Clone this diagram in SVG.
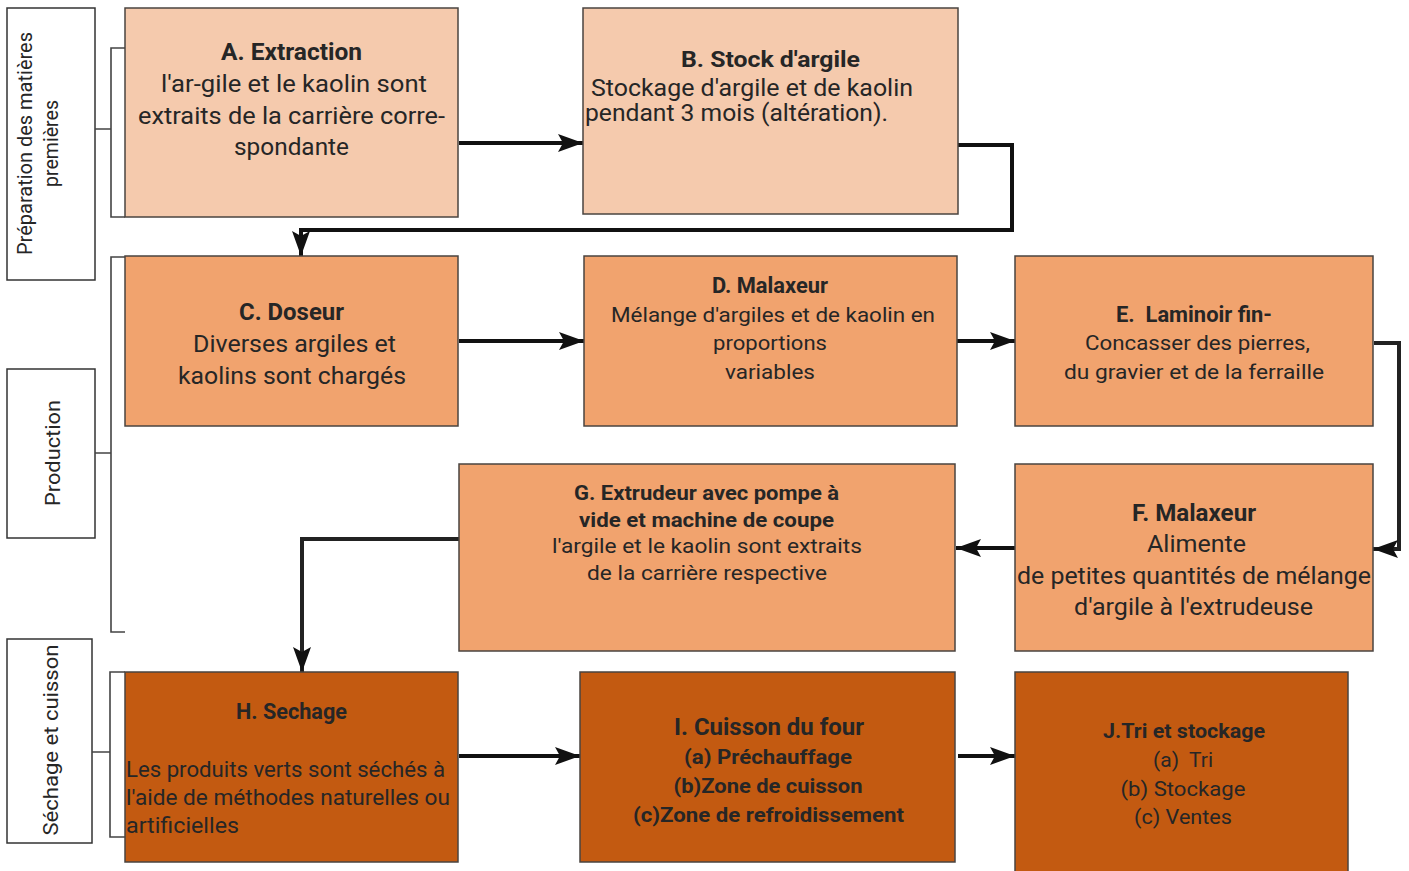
<svg xmlns="http://www.w3.org/2000/svg" width="1409" height="871" viewBox="0 0 1409 871">
<style>
  .lbl{fill:#fff;stroke:#333;stroke-width:1.5}
  .brk{fill:none;stroke:#444;stroke-width:1.6}
  .n{stroke:#4a4440;stroke-width:1.5}
  .p1{fill:#F5CAAD}
  .p2{fill:#F1A36E}
  .p3{fill:#C35A11}
  text{font-family:Roboto,"Liberation Sans",sans-serif;fill:#262626}
  .t{font-weight:bold}
  .c{text-anchor:middle}
  .con{fill:none;stroke:#111;stroke-width:4}
</style>
<defs>
  <marker id="ah" markerUnits="userSpaceOnUse" markerWidth="26" markerHeight="20" refX="25" refY="9" orient="auto">
    <path d="M0,0 L25,9 L0,18 L5,9 Z" fill="#111"/>
  </marker>
</defs>
<rect width="1409" height="871" fill="#fff"/>

<!-- left group labels -->
<g id="grp-prep">
  <rect class="lbl" x="7" y="8" width="88" height="272"/>
  <text class="c" font-size="21" transform="translate(32,143.5) rotate(-90)" textLength="223" lengthAdjust="spacingAndGlyphs">Préparation des matières</text>
  <text class="c" font-size="21" transform="translate(58,143.5) rotate(-90)" textLength="87" lengthAdjust="spacingAndGlyphs">premières</text>
  <path class="brk" d="M95,129 H111 M125,48 H111 V217 H125"/>
</g>
<g id="grp-prod">
  <rect class="lbl" x="7" y="369" width="88" height="169"/>
  <text class="c" font-size="21" transform="translate(60,453) rotate(-90)" textLength="106" lengthAdjust="spacingAndGlyphs">Production</text>
  <path class="brk" d="M95,453 H111 M125,257 H111 V632 H125"/>
</g>
<g id="grp-sech">
  <rect class="lbl" x="7" y="639" width="85" height="204"/>
  <text class="c" font-size="21" transform="translate(58,740) rotate(-90)" textLength="191" lengthAdjust="spacingAndGlyphs">Séchage et cuisson</text>
  <path class="brk" d="M92,752 H110 M125,672 H110 V837 H125"/>
</g>

<!-- connectors -->
<g id="connectors">
  <path class="con" d="M459,143 H583" marker-end="url(#ah)"/>
  <path class="con" d="M958,145 H1012 V230 H301 V256" marker-end="url(#ah)"/>
  <path class="con" d="M459,341 H584" marker-end="url(#ah)"/>
  <path class="con" d="M957,341 H1015" marker-end="url(#ah)"/>
  <path class="con" d="M1374,343 H1399 V549 H1373" marker-end="url(#ah)" style="stroke:#222"/>
  <path class="con" d="M1015,548 H956" marker-end="url(#ah)"/>
  <path class="con" d="M459,539 H302 V672" marker-end="url(#ah)" style="stroke:#222"/>
  <path class="con" d="M459,756 H580" marker-end="url(#ah)"/>
  <path class="con" d="M958,756 H1015" marker-end="url(#ah)"/>
</g>

<!-- nodes -->
<g id="nodeA">
  <rect class="n p1" x="125" y="8" width="333" height="209"/>
  <text class="t c" x="291.5" y="60" font-size="24" textLength="141" lengthAdjust="spacingAndGlyphs">A. Extraction</text>
  <text class="c" x="294" y="92" font-size="24" textLength="266" lengthAdjust="spacingAndGlyphs">l'ar-gile et le kaolin sont</text>
  <text class="c" x="291.5" y="124" font-size="24" textLength="307" lengthAdjust="spacingAndGlyphs">extraits de la carrière corre-</text>
  <text class="c" x="291.5" y="155" font-size="24" textLength="115" lengthAdjust="spacingAndGlyphs">spondante</text>
</g>
<g id="nodeB">
  <rect class="n p1" x="583" y="8" width="375" height="206"/>
  <text class="t c" x="770.5" y="67" font-size="22" textLength="179" lengthAdjust="spacingAndGlyphs">B. Stock d'argile</text>
  <text x="591" y="96" font-size="23" textLength="322" lengthAdjust="spacingAndGlyphs">Stockage d'argile et de kaolin</text>
  <text x="585" y="121" font-size="23" textLength="303" lengthAdjust="spacingAndGlyphs">pendant 3 mois (altération).</text>
</g>
<g id="nodeC">
  <rect class="n p2" x="125" y="256" width="333" height="170"/>
  <text class="t c" x="291.5" y="320" font-size="24" textLength="105" lengthAdjust="spacingAndGlyphs">C. Doseur</text>
  <text class="c" x="294.5" y="352" font-size="24" textLength="203" lengthAdjust="spacingAndGlyphs">Diverses argiles et</text>
  <text class="c" x="292" y="384" font-size="24" textLength="228" lengthAdjust="spacingAndGlyphs">kaolins sont chargés</text>
</g>
<g id="nodeD">
  <rect class="n p2" x="584" y="256" width="373" height="170"/>
  <text class="t c" x="770" y="293" font-size="22" textLength="116" lengthAdjust="spacingAndGlyphs">D. Malaxeur</text>
  <text class="c" x="773" y="322" font-size="21" textLength="324" lengthAdjust="spacingAndGlyphs">Mélange d'argiles et de kaolin en</text>
  <text class="c" x="770" y="350" font-size="21" textLength="114" lengthAdjust="spacingAndGlyphs">proportions</text>
  <text class="c" x="770" y="379" font-size="21" textLength="90" lengthAdjust="spacingAndGlyphs">variables</text>
</g>
<g id="nodeE">
  <rect class="n p2" x="1015" y="256" width="358" height="170"/>
  <text class="t c" x="1194" y="322" font-size="22" textLength="156" lengthAdjust="spacingAndGlyphs" xml:space="preserve">E.  Laminoir fin-</text>
  <text class="c" x="1197.5" y="350" font-size="21" textLength="225" lengthAdjust="spacingAndGlyphs">Concasser des pierres,</text>
  <text class="c" x="1194" y="379" font-size="21" textLength="260" lengthAdjust="spacingAndGlyphs">du gravier et de la ferraille</text>
</g>
<g id="nodeF">
  <rect class="n p2" x="1015" y="464" width="358" height="187"/>
  <text class="t c" x="1194" y="521" font-size="24" textLength="124" lengthAdjust="spacingAndGlyphs">F. Malaxeur</text>
  <text class="c" x="1196.5" y="552" font-size="24" textLength="99" lengthAdjust="spacingAndGlyphs">Alimente</text>
  <text class="c" x="1194" y="584" font-size="24" textLength="354" lengthAdjust="spacingAndGlyphs">de petites quantités de mélange</text>
  <text class="c" x="1193.5" y="615" font-size="24" textLength="239" lengthAdjust="spacingAndGlyphs">d'argile à l'extrudeuse</text>
</g>
<g id="nodeG">
  <rect class="n p2" x="459" y="464" width="496" height="187"/>
  <text class="t c" x="706.5" y="500" font-size="21" textLength="265" lengthAdjust="spacingAndGlyphs">G. Extrudeur avec pompe à</text>
  <text class="t c" x="706.5" y="527" font-size="21" textLength="255" lengthAdjust="spacingAndGlyphs">vide et machine de coupe</text>
  <text class="c" x="707" y="553" font-size="21" textLength="310" lengthAdjust="spacingAndGlyphs">l'argile et le kaolin sont extraits</text>
  <text class="c" x="707" y="580" font-size="21" textLength="240" lengthAdjust="spacingAndGlyphs">de la carrière respective</text>
</g>
<g id="nodeH">
  <rect class="n p3" x="125" y="672" width="333" height="190"/>
  <text class="t c" x="291.5" y="719" font-size="22" textLength="111" lengthAdjust="spacingAndGlyphs">H. Sechage</text>
  <text x="126" y="777" font-size="22" textLength="319" lengthAdjust="spacingAndGlyphs">Les produits verts sont séchés à</text>
  <text x="126" y="805" font-size="22" textLength="324" lengthAdjust="spacingAndGlyphs">l'aide de méthodes naturelles ou</text>
  <text x="126" y="833" font-size="22" textLength="113" lengthAdjust="spacingAndGlyphs">artificielles</text>
</g>
<g id="nodeI">
  <rect class="n p3" x="580" y="672" width="375" height="190"/>
  <text class="t c" x="769" y="735" font-size="23" textLength="190" lengthAdjust="spacingAndGlyphs">I. Cuisson du four</text>
  <text class="t c" x="768" y="764" font-size="21" textLength="168" lengthAdjust="spacingAndGlyphs">(a) Préchauffage</text>
  <text class="t c" x="768" y="793" font-size="21" textLength="189" lengthAdjust="spacingAndGlyphs">(b)Zone de cuisson</text>
  <text class="t c" x="768.5" y="822" font-size="21" textLength="271" lengthAdjust="spacingAndGlyphs">(c)Zone de refroidissement</text>
</g>
<g id="nodeJ">
  <rect class="n p3" x="1015" y="672" width="333" height="204"/>
  <text class="t c" x="1184" y="738" font-size="21" textLength="162" lengthAdjust="spacingAndGlyphs">J.Tri et stockage</text>
  <text class="c" x="1183" y="767" font-size="21" textLength="60" lengthAdjust="spacingAndGlyphs" xml:space="preserve">(a)  Tri</text>
  <text class="c" x="1183" y="796" font-size="21" textLength="125" lengthAdjust="spacingAndGlyphs">(b) Stockage</text>
  <text class="c" x="1183" y="824" font-size="21" textLength="98" lengthAdjust="spacingAndGlyphs">(c) Ventes</text>
</g>
</svg>
